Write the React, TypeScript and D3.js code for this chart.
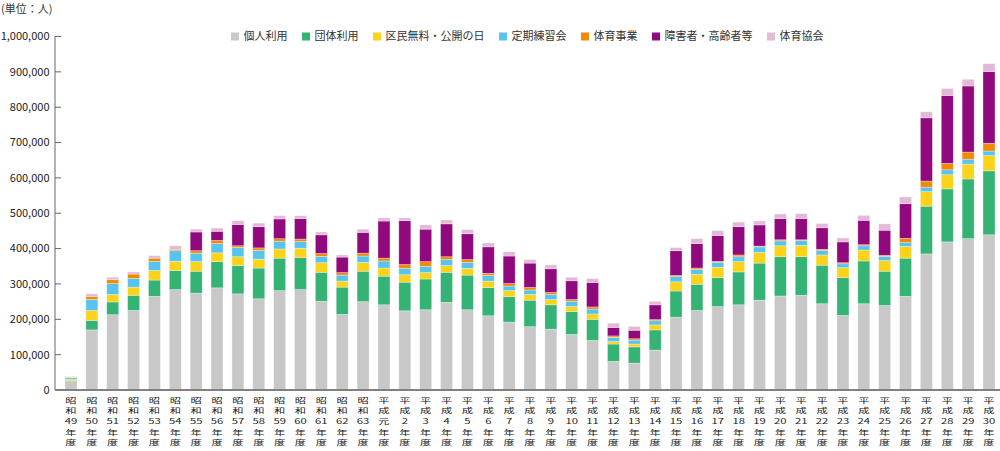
import React from 'react';
import * as d3 from 'd3';

const W = 1000;
const H = 451;

const categories: string[] = [
  '昭和49年度', '昭和50年度', '昭和51年度', '昭和52年度', '昭和53年度', '昭和54年度', '昭和55年度', '昭和56年度',
  '昭和57年度', '昭和58年度', '昭和59年度', '昭和60年度', '昭和61年度', '昭和62年度', '昭和63年度',
  '平成元年度', '平成2年度', '平成3年度', '平成4年度', '平成5年度', '平成6年度', '平成7年度', '平成8年度',
  '平成9年度', '平成10年度', '平成11年度', '平成12年度', '平成13年度', '平成14年度', '平成15年度', '平成16年度',
  '平成17年度', '平成18年度', '平成19年度', '平成20年度', '平成21年度', '平成22年度', '平成23年度', '平成24年度',
  '平成25年度', '平成26年度', '平成27年度', '平成28年度', '平成29年度', '平成30年度',
];

// values in thousands of persons
const kojin = [24, 170, 213, 225, 265, 284, 274, 289, 272, 258, 281, 284, 251, 214, 250, 241, 224, 227, 248, 227, 210, 192, 179, 172, 157, 140, 81, 76, 113, 206, 225, 236, 241, 254, 266, 268, 244, 211, 244, 239, 265, 385, 419, 428, 439];
const dantai = [3, 27, 36, 43, 46, 54, 62, 74, 80, 87, 92, 91, 82, 77, 86, 81, 81, 87, 85, 98, 80, 72, 75, 69, 65, 60, 49, 46, 57, 74, 74, 82, 93, 105, 111, 109, 109, 107, 121, 97, 108, 135, 150, 169, 181];
const kumin = [4, 28, 21, 23, 27, 26, 27, 25, 25, 25, 26, 26, 27, 17, 25, 23, 21, 18, 19, 19, 18, 17, 16, 15, 14, 15, 7, 8, 14, 26, 28, 29, 29, 30, 31, 32, 29, 28, 31, 30, 33, 41, 40, 42, 43];
const teiki = [4, 31, 31, 25, 26, 30, 24, 26, 26, 25, 22, 19, 18, 17, 18, 20, 18, 18, 17, 17, 16, 13, 13, 14, 15, 14, 12, 11, 12, 15, 14, 14, 14, 16, 14, 14, 13, 11, 12, 12, 11, 13, 14, 14, 13];
const jigyo = [0, 9, 11, 12, 9, 4, 7, 9, 5, 7, 7, 7, 8, 7, 8, 8, 11, 13, 8, 8, 6, 7, 7, 6, 5, 6, 4, 4, 3, 3, 4, 3, 5, 2, 3, 2, 3, 3, 3, 3, 12, 17, 18, 20, 22];
const shogai = [0, 0, 0, 0, 0, 0, 53, 26, 60, 60, 56, 58, 53, 44, 59, 105, 124, 92, 93, 73, 75, 78, 69, 67, 53, 69, 24, 24, 42, 70, 69, 73, 80, 60, 60, 60, 61, 59, 69, 71, 98, 179, 192, 187, 203];
const kyokai = [3, 7, 7, 6, 7, 10, 8, 9, 11, 10, 9, 8, 8, 6, 9, 9, 8, 12, 11, 12, 11, 12, 10, 11, 10, 11, 12, 11, 10, 9, 14, 14, 13, 11, 13, 14, 12, 11, 14, 18, 19, 17, 20, 19, 22];

const seriesNames = ['個人利用', '団体利用', '区民無料・公開の日', '定期練習会', '体育事業', '障害者・高齢者等', '体育協会'];
const seriesColors = ['#c8c8c8', '#34b374', '#fdd21a', '#57c4f0', '#f18a00', '#900a7e', '#e2b9d6'];
const seriesValues = [kojin, dantai, kumin, teiki, jigyo, shogai, kyokai];

const yTicks = [0, 100000, 200000, 300000, 400000, 500000, 600000, 700000, 800000, 900000, 1000000];
const unitLabel = '(単位：人)';

const FONT = "'Noto Sans CJK JP', 'Noto Sans', sans-serif";

function splitLabel(c: string): string[] {
  const era = c.slice(0, 2);
  const rest = c.slice(2, c.length - 2);
  return [era[0], era[1], rest, '年', '度'];
}

export default function App() {
  const x = d3.scalePoint<string>().domain(categories).range([71, 989]);
  const y = d3.scaleLinear().domain([0, 1000000]).range([390, 36.5]);
  const barW = 12;

  const table = categories.map((c, i) => {
    const row: Record<string, number | string> = { cat: c };
    seriesNames.forEach((s, k) => { row[s] = seriesValues[k][i] * 1000; });
    return row;
  });
  const stacked = d3.stack<Record<string, number | string>>().keys(seriesNames)(table as any);

  // legend layout
  const fs = 11;
  let lx = 231;
  const legendItems = seriesNames.map((name, k) => {
    const item = { name, color: seriesColors[k], x: lx };
    lx += 12.5 + name.length * fs + 14.5;
    return item;
  });

  const fmt = d3.format(',');

  return (
    <svg width={W} height={H} style={{ position: 'absolute', left: 0, top: 0, background: '#fff' }} fontFamily={FONT}>
      <text x={1} y={9} dy="0.35em" fontSize={11} fill="#333">{unitLabel}</text>

      {/* legend */}
      {legendItems.map((it) => (
        <g key={it.name}>
          <rect x={it.x} y={32.5} width={8} height={8} fill={it.color} />
          <text x={it.x + 12.5} y={36.5} dy="0.35em" fontSize={fs} fill="#333">{it.name}</text>
        </g>
      ))}

      {/* bars */}
      {stacked.map((layer, k) => (
        <g key={seriesNames[k]} fill={seriesColors[k]}>
          {layer.map((d, i) => {
            const h = y(d[0]) - y(d[1]);
            if (h <= 0) return null;
            return (
              <rect
                key={i}
                x={(x(categories[i]) as number) - barW / 2}
                y={y(d[1])}
                width={barW}
                height={h}
                stroke="rgba(255,255,255,0.45)"
                strokeWidth={0.7}
              />
            );
          })}
        </g>
      ))}

      {/* y axis */}
      <line x1={55} x2={55} y1={y(1000000)} y2={390} stroke="#666" strokeWidth={1} />
      {yTicks.map((t) => (
        <g key={t}>
          <line x1={55} x2={61} y1={y(t)} y2={y(t)} stroke="#666" strokeWidth={1} />
          <text x={49.5} y={y(t)} dy="0.35em" textAnchor="end" fontSize={11} fill="#222">{fmt(t)}</text>
        </g>
      ))}

      {/* baseline */}
      <line x1={55} x2={1000} y1={390} y2={390} stroke="#808080" strokeWidth={1.8} />

      {/* x labels: stacked characters */}
      {categories.map((c) => (
        <g key={c} transform={`translate(${x(c)},400) scale(1.15,0.74)`}>
          {splitLabel(c).map((t, j) => (
            <text key={j} x={0} y={j * 14.5} dy="0.35em" textAnchor="middle" fontSize={9.8} fill="#222">{t}</text>
          ))}
        </g>
      ))}
    </svg>
  );
}
